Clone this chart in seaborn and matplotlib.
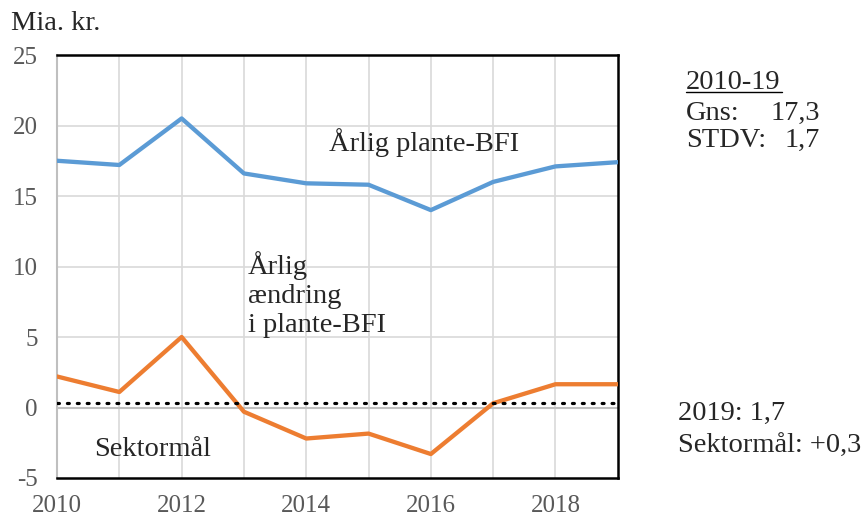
import matplotlib
matplotlib.use("Agg")
import matplotlib.pyplot as plt
import seaborn as sns
import pandas as pd

years = list(range(2010, 2020))
bfi = [17.5, 17.2, 20.5, 16.6, 15.9, 15.8, 14.0, 16.0, 17.1, 17.4]
change = [2.2, 1.1, 5.0, -0.3, -2.2, -1.85, -3.3, 0.3, 1.65, 1.65]
target = 0.3

df = pd.DataFrame({
    "year": years * 2,
    "value": bfi + change,
    "serie": ["bfi"] * len(years) + ["change"] * len(years),
})

sns.set_style("white")
plt.rcParams["font.family"] = ["Liberation Serif", "DejaVu Serif"]
plt.rcParams["axes.unicode_minus"] = False

fig = plt.figure(figsize=(8.68, 5.19), dpi=100)
ax = fig.add_axes([0.0657, 0.079, 0.646, 0.815])

ax.set_xlim(2010, 2019)
ax.set_ylim(-5, 25)
ax.set_xticks(range(2010, 2020, 2))
ax.set_yticks(range(-5, 30, 5))
for yr in range(2011, 2019):
    ax.axvline(yr, color="#d9d9d9", lw=1.2, zorder=0)
for v in range(5, 25, 5):
    ax.axhline(v, color="#d9d9d9", lw=1.2, zorder=0)
ax.axhline(0, color="#bfbfbf", lw=1.5, zorder=1)

sns.lineplot(data=df, x="year", y="value", hue="serie",
             palette={"bfi": "#5B9BD5", "change": "#ED7D31"},
             lw=3.1, legend=False, ax=ax, zorder=3)
ax.axhline(target, color="black", lw=2.3, ls=(0, (0.6, 2.5)),
           dash_capstyle="round", zorder=4)

for s in ["top", "bottom", "right"]:
    ax.spines[s].set_color("black")
    ax.spines[s].set_linewidth(1.8)
ax.spines["left"].set_color("#bfbfbf")
ax.spines["left"].set_linewidth(1.5)
ax.set_xlabel("")
ax.set_ylabel("")
ax.tick_params(axis="y", length=0, labelsize=18, labelcolor="#595959", pad=14)
ax.tick_params(axis="x", length=0, labelsize=18, labelcolor="#595959", pad=12)

fs = 20.5
fig.text(0.013, 0.955, "Mia. kr.", fontsize=fs, ha="left", va="center")
ax.text(2014.37, 18.8, "Årlig plante-BFI", fontsize=fs, ha="left", va="center")
ax.text(2013.06, 8.0, "Årlig\nændring\ni plante-BFI", fontsize=fs,
        ha="left", va="center", linespacing=1.2)
ax.text(2010.6, -3.0, "Sektormål", fontsize=fs, ha="left", va="center")

fig.text(0.79, 0.842, "2010-19", fontsize=fs, ha="left", va="center")
fig.add_artist(plt.Line2D([0.79, 0.901], [0.823, 0.823], color="black", lw=1))
fig.text(0.79, 0.782, "Gns:", fontsize=fs, ha="left", va="center")
fig.text(0.945, 0.782, "17,3", fontsize=fs, ha="right", va="center")
fig.text(0.79, 0.73, "STDV:", fontsize=fs, ha="left", va="center")
fig.text(0.945, 0.73, "1,7", fontsize=fs, ha="right", va="center")

fig.text(0.781, 0.204, "2019: 1,7", fontsize=fs, ha="left", va="center")
fig.text(0.781, 0.139, "Sektormål: +0,3", fontsize=fs, ha="left", va="center")

fig.savefig("out.png", dpi=100)
